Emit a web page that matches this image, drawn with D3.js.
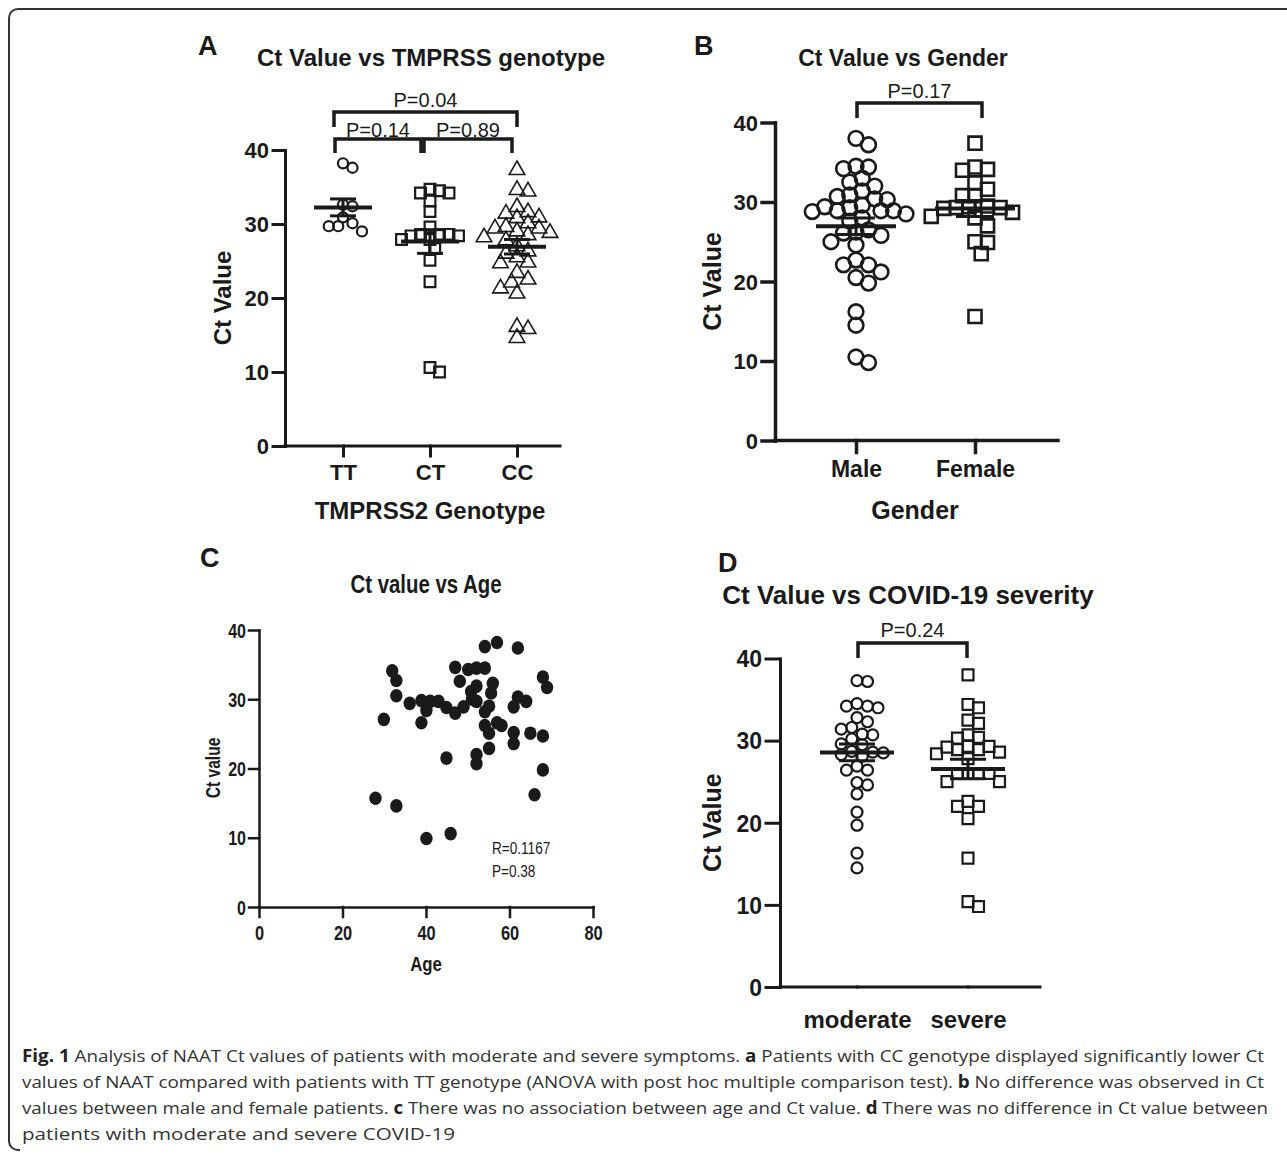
<!DOCTYPE html>
<html>
<head>
<meta charset="utf-8">
<script src="https://d3js.org/d3.v7.min.js"></script>
<style>
  body { margin: 0; background: #fff; }
  svg { display: block; }
  .bold { font-family: "Liberation Sans", Arial, Helvetica, sans-serif; font-weight: bold; fill: #1a1a1a; }
  .reg { font-family: "Liberation Sans", Arial, Helvetica, sans-serif; fill: #1a1a1a; }
  .cap { font-family: "Open Sans", "Noto Sans", sans-serif; fill: #333; }
</style>
</head>
<body>
<script>
// ---- data ----
var yTicks = [0, 10, 20, 30, 40];
var ageTicks = [0, 20, 40, 60, 80];

// A: Ct value by TMPRSS2 genotype
var genoCats = ['TT', 'CT', 'CC'];
var ctTT = [38.2, 37.6, 32.6, 32.4, 30.1, 29.0, 29.7, 30.9, 29.7];
var ctCT = [34.2, 34.5, 34.7, 34.2, 33.1, 31.7, 29.6, 28.6, 28.6, 28.6, 28.4, 28.4, 27.9, 27.9, 26.7, 25.1, 22.2, 10.0, 10.6];
var ctCC = [37.3, 34.6, 34.4, 32.3, 31.4, 30.8, 30.9, 30.1, 31.6, 29.4, 29.6, 29.4, 29.0, 28.8, 28.5, 28.2, 27.8, 26.0, 27.0, 26.3,
            25.5, 24.7, 24.8, 23.4, 22.5, 22.1, 21.3, 20.6, 16.1, 15.8, 14.6];
var pairsA = [['TT', 'CC', 'P=0.04'], ['TT', 'CT', 'P=0.14'], ['CT', 'CC', 'P=0.89']];

// B: Ct value by gender
var genderCats = ['Male', 'Female'];
var ctMale = [38.0, 37.2, 34.5, 34.4, 34.2, 33.0, 32.0, 32.5, 31.4, 30.9, 30.7, 30.4, 30.3, 29.6, 29.4, 29.3, 28.9, 28.9, 28.9, 28.8,
              28.5, 28.0, 27.6, 26.1, 26.2, 25.8, 26.5, 25.0, 24.6, 22.1, 22.7, 22.1, 20.5, 21.2, 19.8, 16.2, 14.5, 10.5, 9.8];
var ctFemale = [37.4, 34.4, 34.0, 34.1, 32.4, 31.6, 30.8, 30.8, 29.2, 29.3, 29.4, 29.5, 29.3, 28.7, 28.2, 28.0, 27.0, 24.9, 25.0, 23.5, 15.6];
var pairsB = [['Male', 'Female', 'P=0.17']];

// C: Ct value vs age
var ageVals = [27.9, 29.9, 31.9, 32.9, 32.9, 32.9, 36.1, 38.9, 38.9, 40.1, 41.0, 43.0, 40.1, 44.9, 44.9, 45.9, 47.0, 47.0, 48.1, 49.0,
               50.1, 50.8, 51.0, 52.1, 52.1, 52.1, 52.1, 52.1, 54.1, 54.1, 54.1, 54.1, 55.1, 55.1, 55.1, 56.0, 55.6, 57.0, 57.0, 58.1,
               61.0, 61.0, 61.0, 62.0, 62.0, 64.0, 65.0, 66.0, 68.0, 69.0, 68.0, 68.0];
var ctAge = [15.7, 27.1, 34.1, 32.7, 30.5, 14.6, 29.4, 29.8, 26.6, 28.4, 29.7, 29.7, 9.9, 28.8, 21.5, 10.6, 34.6, 28.0, 32.6, 28.9,
             34.3, 31.1, 30.0, 34.5, 31.9, 29.7, 22.0, 20.7, 37.6, 34.5, 28.2, 26.2, 29.0, 25.1, 22.9, 32.3, 30.9, 38.2, 26.6, 26.2,
             28.9, 25.2, 23.6, 37.4, 30.3, 29.7, 25.1, 16.2, 33.2, 31.7, 24.7, 19.8];
var statsC = ['R=0.1167', 'P=0.38'];

// D: Ct value by severity
var sevCats = ['moderate', 'severe'];
var ctModerate = [37.2, 37.3, 34.2, 34.2, 34.5, 34.0, 32.8, 32.3, 31.4, 31.6, 30.8, 30.7, 30.2, 29.5, 29.6, 28.1, 28.6, 28.7, 28.3, 28.5,
                  26.4, 26.4, 26.9, 24.9, 24.6, 23.5, 21.3, 19.7, 16.3, 14.5];
var ctSevere = [38.0, 34.4, 34.0, 32.1, 32.5, 30.4, 30.7, 30.3, 29.3, 28.9, 29.3, 29.2, 28.6, 28.9, 28.4, 27.8, 26.0, 26.0, 26.0, 26.0,
                25.0, 25.0, 22.0, 22.6, 22.0, 20.5, 15.7, 9.8, 10.4];
var pairsD = [['moderate', 'severe', 'P=0.24']];

var ink = '#1a1a1a';
var narrowK = 0.8;   // horizontal squeeze standing in for a condensed face

var svg = d3.select('body').append('svg').attr('width', 1287).attr('height', 1157);
svg.append('rect').attr('width', 1287).attr('height', 1157).attr('fill', '#fff');

// frame
svg.append('path')
  .attr('d', 'M1287,9H18A9,9 0 0 0 9,18V1141A9,9 0 0 0 18,1150H20')
  .attr('fill', 'none').attr('stroke', '#333').attr('stroke-width', 2);

// simple beeswarm: spread points sideways so they do not overlap
function swarm(vals, y, minDist) {
  var order = d3.range(vals.length).sort(function(a, b) { return d3.descending(vals[a], vals[b]); });
  var placed = [], off = new Array(vals.length), step = minDist / 2;
  order.forEach(function(i) {
    var py = y(vals[i]);
    for (var k = 0; k < 200; k++) {
      var o = (k % 2 ? 1 : -1) * Math.ceil(k / 2) * step;
      var ok = placed.every(function(p) { return (p.x - o) * (p.x - o) + (p.y - py) * (p.y - py) >= minDist * minDist; });
      if (ok) { off[i] = o; placed.push({x: o, y: py}); break; }
    }
  });
  return off;
}

function styleAxis(ax, sw, size) {
  ax.attr('font-family', null).attr('font-size', null);
  ax.selectAll('path, line').attr('stroke', ink).attr('stroke-width', sw).attr('stroke-linecap', 'square');
  ax.selectAll('text').attr('class', 'bold').style('font-size', size + 'px').attr('fill', ink);
}

function dotPlot(c) {
  var g = svg.append('g');
  var y = d3.scaleLinear().domain([0, 40]).range([c.y0, c.y40]);
  var x = d3.scalePoint().domain(c.cats).range(c.xr);

  var ya = g.append('g').attr('transform', 'translate(' + c.ax + ',0)')
    .call(d3.axisLeft(y).tickValues(yTicks).tickSize(c.tick).tickSizeOuter(0).tickPadding(4));
  styleAxis(ya, c.sw, c.tickFont);
  ya.selectAll('text').attr('dy', '0.36em');

  var xa = g.append('g').attr('transform', 'translate(0,' + c.y0 + ')')
    .call(d3.axisBottom(x).tickSize(c.xtick).tickSizeOuter(0).tickPadding(c.xpad));
  styleAxis(xa, c.sw, c.catFont);
  xa.select('.domain').remove();
  g.append('line').attr('x1', c.ax).attr('x2', c.axEnd).attr('y1', c.y0).attr('y2', c.y0)
    .attr('stroke', ink).attr('stroke-width', c.sw).attr('stroke-linecap', 'square');

  // axis titles
  g.append('text').attr('class', 'bold').style('font-size', c.labFont + 'px')
    .attr('transform', 'translate(' + c.ylabX + ',' + (c.y0 + c.y40) / 2 + ')rotate(-90)')
    .attr('text-anchor', 'middle').text('Ct Value');
  if (c.xlab) {
    g.append('text').attr('class', 'bold').style('font-size', c.labFont + 'px')
      .attr('x', c.xlabX).attr('y', c.xlabY).attr('text-anchor', 'middle').text(c.xlab);
  }

  // points
  c.series.forEach(function(vals, i) {
    var cat = c.cats[i], m = c.marks[i];
    var off = swarm(vals, y, m.dist);
    var sym = d3.symbol().type(m.type).size(m.size);
    g.append('g').selectAll('path').data(vals).enter().append('path')
      .attr('d', sym)
      .attr('transform', function(d, j) { return 'translate(' + (x(cat) + off[j]) + ',' + y(d) + ')'; })
      .attr('fill', 'none').attr('stroke', ink).attr('stroke-width', m.sw);

    // mean +/- SEM
    var mean = d3.mean(vals), se = d3.deviation(vals) / Math.sqrt(vals.length);
    var cx = x(cat);
    g.append('line').attr('x1', cx - c.meanW / 2).attr('x2', cx + c.meanW / 2)
      .attr('y1', y(mean)).attr('y2', y(mean)).attr('stroke', ink).attr('stroke-width', 4);
    g.append('line').attr('x1', cx).attr('x2', cx).attr('y1', y(mean - se)).attr('y2', y(mean + se))
      .attr('stroke', ink).attr('stroke-width', 3);
    [mean - se, mean + se].forEach(function(v) {
      g.append('line').attr('x1', cx - c.capW / 2).attr('x2', cx + c.capW / 2)
        .attr('y1', y(v)).attr('y2', y(v)).attr('stroke', ink).attr('stroke-width', 3);
    });
  });

  // significance brackets
  c.pairs.forEach(function(p, i) {
    var lv = c.levels[i];
    var x1 = x(p[0]) + lv.dl, x2 = x(p[1]) + lv.dr;
    g.append('path')
      .attr('d', 'M' + x1 + ',' + lv.bot + 'V' + lv.top + 'H' + x2 + 'V' + lv.bot)
      .attr('fill', 'none').attr('stroke', ink).attr('stroke-width', 3.5);
    g.append('text').attr('class', 'reg').style('font-size', c.pFont + 'px')
      .attr('x', (x1 + x2) / 2).attr('y', lv.top - lv.gap).attr('text-anchor', 'middle').text(p[2]);
  });

  // panel letter and title
  svg.append('text').attr('class', 'bold').style('font-size', '27px')
    .attr('x', c.letterX).attr('y', c.letterY).text(c.letter);
  svg.append('text').attr('class', 'bold').style('font-size', c.titleFont + 'px')
    .attr('x', c.titleX).attr('y', c.titleY).attr('text-anchor', 'middle').text(c.title);
}

// ---- panel A ----
dotPlot({
  cats: genoCats, series: [ctTT, ctCT, ctCC],
  marks: [
    {type: d3.symbolCircle, size: 80, sw: 2.2, dist: 9.5},
    {type: d3.symbolSquare, size: 115, sw: 2.2, dist: 9.5},
    {type: d3.symbolTriangle, size: 105, sw: 1.6, dist: 11}
  ],
  y0: 446, y40: 150, xr: [343, 517], ax: 285, axEnd: 560, sw: 3,
  tick: 12, xtick: 10, xpad: 8, tickFont: 22, catFont: 22, labFont: 24,
  ylabX: 231, xlab: 'TMPRSS2 Genotype', xlabX: 430, xlabY: 519,
  meanW: 58, capW: 26, pFont: 20,
  pairs: pairsA,
  levels: [{top: 112, bot: 127, dl: -9, dr: 0, gap: 5}, {top: 139, bot: 153, dl: -8, dr: -9, gap: 2}, {top: 139, bot: 153, dl: -6, dr: -5, gap: 2}],
  letter: 'A', letterX: 198, letterY: 55, title: 'Ct Value vs TMPRSS genotype', titleX: 431, titleY: 66, titleFont: 24
});

// ---- panel B ----
dotPlot({
  cats: genderCats, series: [ctMale, ctFemale],
  marks: [
    {type: d3.symbolCircle, size: 170, sw: 2.6, dist: 12.5},
    {type: d3.symbolSquare, size: 170, sw: 2.6, dist: 12.5}
  ],
  y0: 440.5, y40: 122.5, xr: [856, 975], ax: 775, axEnd: 1058, sw: 3.5,
  tick: 13, xtick: 12, xpad: 8, tickFont: 22, catFont: 23, labFont: 25,
  ylabX: 721, xlab: 'Gender', xlabX: 915, xlabY: 519,
  meanW: 80, capW: 38, pFont: 20,
  pairs: pairsB,
  levels: [{top: 103, bot: 118, dl: 1, dr: 7, gap: 5}],
  letter: 'B', letterX: 694, letterY: 55, title: 'Ct Value vs Gender', titleX: 903, titleY: 66, titleFont: 23
});

// ---- panel D ----
dotPlot({
  cats: sevCats, series: [ctModerate, ctSevere],
  marks: [
    {type: d3.symbolCircle, size: 95, sw: 2.2, dist: 10.5},
    {type: d3.symbolSquare, size: 120, sw: 2.2, dist: 10.5}
  ],
  y0: 987, y40: 658.5, xr: [857, 968], ax: 780, axEnd: 1040, sw: 3,
  tick: 14, xtick: 0, xpad: 24, tickFont: 23, catFont: 24, labFont: 25,
  ylabX: 721, xlab: null,
  meanW: 74, capW: 36, pFont: 20,
  pairs: pairsD,
  levels: [{top: 643, bot: 658, dl: 1, dr: -1, gap: 6}],
  letter: 'D', letterX: 718, letterY: 572, title: 'Ct Value vs COVID-19 severity', titleX: 908, titleY: 604, titleFont: 26
});

// ---- panel C (condensed lettering) ----
(function() {
  var g = svg.append('g');
  var x = d3.scaleLinear().domain([0, 80]).range([259, 593]);
  var y = d3.scaleLinear().domain([0, 40]).range([907, 630]);
  var sq = 'scale(' + narrowK + ',1)';

  var ya = g.append('g').attr('transform', 'translate(259,0)')
    .call(d3.axisLeft(y).tickValues(yTicks).tickSize(10).tickSizeOuter(0).tickPadding(3));
  styleAxis(ya, 2.5, 20);
  ya.selectAll('text').attr('dy', '0.36em').attr('x', -13 / narrowK).attr('transform', sq);

  var xa = g.append('g').attr('transform', 'translate(0,907)')
    .call(d3.axisBottom(x).tickValues(ageTicks).tickSize(10).tickSizeOuter(0).tickPadding(8));
  styleAxis(xa, 2.5, 20.5);
  xa.selectAll('text').attr('transform', sq);

  g.append('g').selectAll('ellipse').data(ageVals).enter().append('ellipse')
    .attr('cx', function(d) { return x(d); })
    .attr('cy', function(d, i) { return y(ctAge[i]); })
    .attr('rx', 6.2).attr('ry', 6.8).attr('fill', ink);

  g.append('text').attr('class', 'bold').style('font-size', '21px')
    .attr('transform', 'translate(426,971)' + sq).attr('text-anchor', 'middle').text('Age');
  g.append('text').attr('class', 'bold').style('font-size', '19.5px')
    .attr('transform', 'translate(220,768)rotate(-90)' + sq).attr('text-anchor', 'middle').text('Ct value');
  g.selectAll('.stat').data(statsC).enter().append('text').attr('class', 'reg stat')
    .style('font-size', '17px')
    .attr('transform', function(d, i) { return 'translate(492,' + (854 + i * 23) + ')' + sq; })
    .text(function(d) { return d; });

  svg.append('text').attr('class', 'bold').style('font-size', '27px').attr('x', 200).attr('y', 567).text('C');
  svg.append('text').attr('class', 'bold').style('font-size', '25.5px')
    .attr('transform', 'translate(426,593)' + sq).attr('text-anchor', 'middle').text('Ct value vs Age');
})();

// ---- caption ----
var capLines = [
  [['Fig. 1', 1], [' Analysis of NAAT Ct values of patients with moderate and severe symptoms. ', 0], ['a', 1],
   [' Patients with CC genotype displayed significantly lower Ct', 0]],
  [['values of NAAT compared with patients with TT genotype (ANOVA with post hoc multiple comparison test). ', 0], ['b', 1],
   [' No difference was observed in Ct', 0]],
  [['values between male and female patients. ', 0], ['c', 1], [' There was no association between age and Ct value. ', 0],
   ['d', 1], [' There was no difference in Ct value between', 0]],
  [['patients with moderate and severe COVID-19', 0]]
];
var capWidths = [1242, 1242, 1246, 433];
capLines.forEach(function(line, i) {
  var t = svg.append('text').attr('class', 'cap').style('font-size', '17px')
    .attr('x', 22).attr('y', 1062 + i * 26)
    .attr('textLength', capWidths[i]).attr('lengthAdjust', 'spacingAndGlyphs');
  line.forEach(function(s) {
    t.append('tspan').attr('font-weight', s[1] ? 'bold' : 'normal').attr('fill', s[1] ? '#222' : '#333').text(s[0]);
  });
});
</script>
</body>
</html>
